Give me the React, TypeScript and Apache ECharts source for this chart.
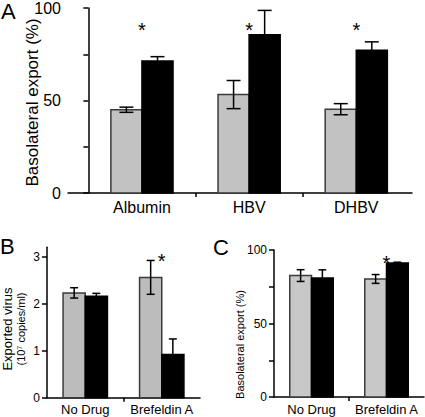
import React, { useEffect, useRef } from 'react';
import * as echarts from 'echarts';

const FONT = "'Liberation Sans', Arial, Helvetica, sans-serif";

// Panel A
const catsA = ['Albumin', 'HBV', 'DHBV'];
const grayA = [45.0, 53.2, 45.3];
const grayErrA = [1.4, 7.6, 3.0];
const blackA = [71.4, 85.6, 77.1];
const blackErrA = [2.3, 13.1, 4.6];
const starA: (number | null)[] = [90.4, 90.4, 90.4];
const yTicksA = [0, 25, 50, 75, 100];
const yLabelsA = [0, 50, 100];

// Panel B
const catsB = ['No Drug', 'Brefeldin A'];
const grayB = [2.23, 2.56];
const grayErrB = [0.11, 0.36];
const blackB = [2.16, 0.92];
const blackErrB = [0.06, 0.33];
const starB: (number | null)[] = [null, 3.01];
const yTicksB = [0, 1, 2, 3];

// Panel C
const catsC = ['No Drug', 'Brefeldin A'];
const grayC = [82.6, 80.3];
const grayErrC = [4.0, 3.0];
const blackC = [81.0, 91.2];
const blackErrC = [5.5, 0.5];
const starC: (number | null)[] = [null, 94.3];
const yTicksC = [0, 25, 50, 75, 100];
const yLabelsC = [0, 50, 100];

const rows = (g: number[], ge: number[], b: number[], be: number[]) =>
  g.map((v, i) => [i, v, ge[i], b[i], be[i]]);
const starRows = (s: (number | null)[]) =>
  s.map((v, i) => [i, v]).filter((d) => d[1] != null);
const bounds = (cats: string[]) => cats.slice(1).map((_, i) => i + 1);
const centers = (cats: string[]) => cats.map((_, i) => i + 0.5);

const makeBars = (barFrac: number, capFrac: number, grayFill: string, lw: number) =>
  (params: any, api: any) => {
    const i = api.value(0);
    const base = api.coord([i + 0.5, 0]);
    const band = api.size([1, 0])[0];
    const bw = band * barFrac;
    const cx = base[0];
    const y0 = base[1];
    const yAt = (v: number) => api.coord([i + 0.5, v])[1];
    const g = api.value(1), ge = api.value(2), b = api.value(3), be = api.value(4);
    const cap = bw * capFrac;
    const ls = { stroke: '#000', lineWidth: lw };
    const err = (x: number, v: number, e: number) => {
      const yt = yAt(v + e), yb = yAt(v - e);
      return [
        { type: 'line', shape: { x1: x, y1: yt, x2: x, y2: yb }, style: ls },
        { type: 'line', shape: { x1: x - cap / 2, y1: yt, x2: x + cap / 2, y2: yt }, style: ls },
        { type: 'line', shape: { x1: x - cap / 2, y1: yb, x2: x + cap / 2, y2: yb }, style: ls },
      ];
    };
    const gt = yAt(g), bt = yAt(b);
    return {
      type: 'group',
      children: [
        { type: 'rect', shape: { x: cx - bw, y: gt, width: bw, height: y0 - gt }, style: { fill: grayFill, stroke: '#3a3a3a', lineWidth: lw } },
        { type: 'rect', shape: { x: cx, y: bt, width: bw, height: y0 - bt }, style: { fill: '#000', stroke: '#000', lineWidth: lw } },
        ...err(cx - bw / 2, g, ge),
        ...err(cx + bw / 2, b, be),
      ],
    };
  };

const makeStar = (fs: number) => (params: any, api: any) => {
  const p = api.coord([api.value(0) + 0.5, api.value(1)]);
  return {
    type: 'text',
    style: { text: '*', x: p[0], y: p[1] + 0.23 * fs, fontSize: fs, fontFamily: FONT, fill: '#000', align: 'center', verticalAlign: 'middle' },
  };
};

const axisLineStyle = { color: '#000', width: 1.5 };

export default function App() {
  const ref = useRef<HTMLDivElement>(null);
  useEffect(() => {
    if (!ref.current) return;
    const chart = echarts.init(ref.current, undefined, { renderer: 'svg' });
    const xAxisBase = (gi: number, cats: string[], min: number, max: number, fs: number, margin: number) => ({
      gridIndex: gi,
      type: 'value',
      min,
      max,
      axisLine: { show: true, onZero: false, lineStyle: axisLineStyle },
      axisTick: { show: true, length: 4, customValues: bounds(cats), lineStyle: axisLineStyle },
      axisLabel: {
        customValues: centers(cats),
        formatter: (v: number) => cats[Math.round(v - 0.5)],
        fontSize: fs,
        fontFamily: FONT,
        color: '#000',
        margin,
      },
      splitLine: { show: false },
    });
    const yAxisBase = (gi: number, min: number, max: number, ticks: number[], labels: number[], fs: number, margin: number) => ({
      gridIndex: gi,
      type: 'value',
      min,
      max,
      axisLine: { show: true, lineStyle: axisLineStyle },
      axisTick: { show: true, length: 5, customValues: ticks, lineStyle: axisLineStyle },
      axisLabel: { customValues: labels, fontSize: fs, fontFamily: FONT, color: '#000', margin },
      splitLine: { show: false },
      nameLocation: 'middle',
      nameRotate: 90,
      nameMoveOverlap: false,
    });
    chart.setOption({
      animation: false,
      backgroundColor: '#fff',
      grid: [
        { left: 68, top: 7, width: 344, height: 186 },
        { left: 46, top: 247.3, width: 154, height: 150.4 },
        { left: 274, top: 250, width: 150, height: 147 },
      ],
      xAxis: [
        xAxisBase(0, catsA, -0.19, catsA.length + 0.02, 16, 6),
        xAxisBase(1, catsB, 0, catsB.length, 13, 5),
        xAxisBase(2, catsC, 0, catsC.length, 13, 6),
      ],
      yAxis: [
        {
          ...yAxisBase(0, 0, 100, yTicksA, yLabelsA, 16, 7),
          name: 'Basolateral export (%)',
          nameGap: 27,
          nameTextStyle: { fontSize: 17, fontFamily: FONT, color: '#000', padding: [0, 4, 0, 0] },
        },
        {
          ...yAxisBase(1, 0, 3.2, yTicksB, yTicksB, 12, 7),
          name: '{a|Exported virus}\n{b|(10\u2077 copies/ml)}',
          nameGap: 20,
          nameTextStyle: {
            fontFamily: FONT,
            color: '#000',
            padding: [0, 13, 0, 0],
            rich: {
              a: { fontSize: 13, fontFamily: FONT, color: '#000', lineHeight: 13 },
              b: { fontSize: 11, fontFamily: FONT, color: '#000', lineHeight: 13 },
            },
          },
        },
        {
          ...yAxisBase(2, 0, 100, yTicksC, yLabelsC, 12, 7),
          name: 'Basolateral export (%)',
          nameGap: 29,
          nameTextStyle: { fontSize: 11, fontFamily: FONT, color: '#000', padding: [0, 42, 0, 0] },
        },
      ],
      series: [
        { type: 'custom', xAxisIndex: 0, yAxisIndex: 0, renderItem: makeBars(0.29, 0.45, '#c2c2c2', 1.5), data: rows(grayA, grayErrA, blackA, blackErrA), clip: false },
        { type: 'custom', xAxisIndex: 0, yAxisIndex: 0, renderItem: makeStar(20), data: starRows(starA) },
        { type: 'custom', xAxisIndex: 1, yAxisIndex: 1, renderItem: makeBars(0.29, 0.36, '#bcbcbc', 1.5), data: rows(grayB, grayErrB, blackB, blackErrB), clip: false },
        { type: 'custom', xAxisIndex: 1, yAxisIndex: 1, renderItem: makeStar(20), data: starRows(starB) },
        { type: 'custom', xAxisIndex: 2, yAxisIndex: 2, renderItem: makeBars(0.29, 0.36, '#c8c8c8', 1.5), data: rows(grayC, grayErrC, blackC, blackErrC), clip: false },
        { type: 'custom', xAxisIndex: 2, yAxisIndex: 2, renderItem: makeStar(20), data: starRows(starC) },
      ],
      graphic: [
        { type: 'text', style: { text: 'A', x: 1, y: 11, fontSize: 22, fontFamily: FONT, fill: '#000', verticalAlign: 'middle' } },
        { type: 'text', style: { text: 'B', x: 0, y: 246, fontSize: 22, fontFamily: FONT, fill: '#000', verticalAlign: 'middle' } },
        { type: 'text', style: { text: 'C', x: 213, y: 247.5, fontSize: 22, fontFamily: FONT, fill: '#000', verticalAlign: 'middle' } },
      ],
    });
    return () => chart.dispose();
  }, []);
  return <div ref={ref} style={{ position: 'fixed', left: 0, top: 0, width: 425, height: 417 }} />;
}
